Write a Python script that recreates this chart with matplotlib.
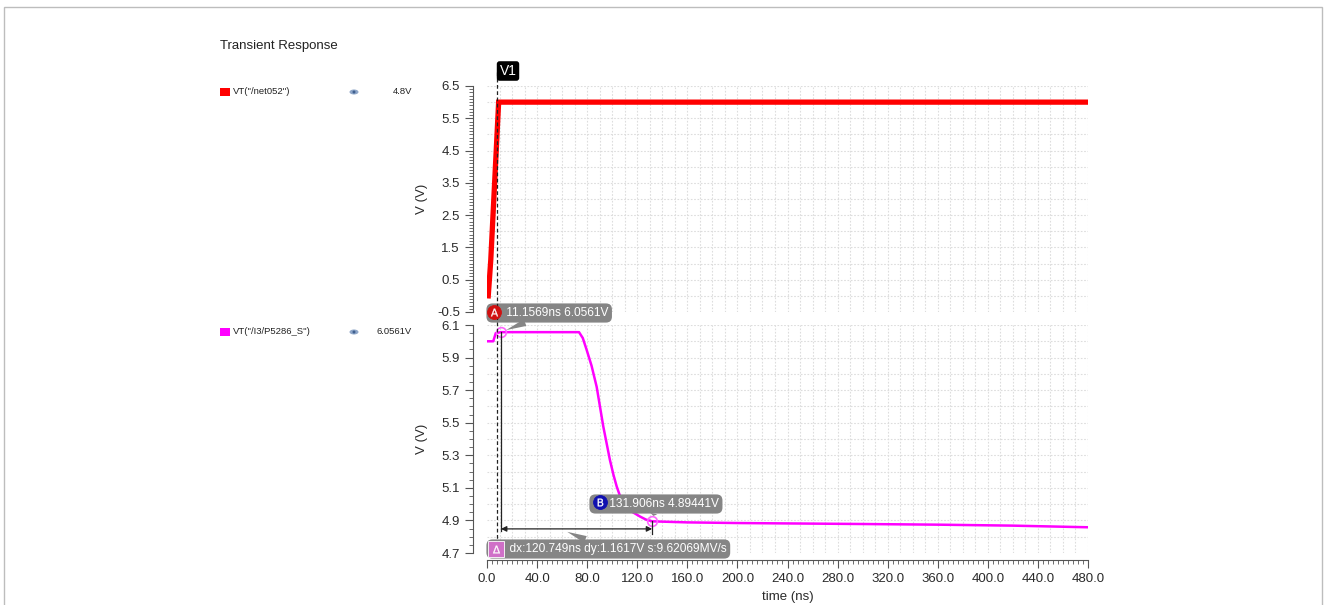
import matplotlib.pyplot as plt
import numpy as np
from matplotlib.patches import Rectangle, Ellipse
from matplotlib.lines import Line2D

plt.rcParams['font.family'] = ['Liberation Sans', 'DejaVu Sans']
plt.rcParams['axes.unicode_minus'] = False

# ==========================
# Data (read off the waveform viewer)
# ==========================
t_net052 = [1.0, 3.0, 9.3, 480.0]
v_net052 = [0.0, 1.1, 6.0, 6.0]

t_p5286 = [0.0, 5.0, 7.0, 11.16, 73.5, 76.5, 79.6, 83.5, 87.6, 92.9, 98.2, 101.0, 103.6, 106.0,
           109.0, 111.6, 116.5, 122.2, 127.0, 131.9, 160.0, 200.0, 300.0, 360.0, 420.0, 480.0]
v_p5286 = [6.0, 6.0, 6.05, 6.0561, 6.056, 6.02, 5.947, 5.85, 5.72, 5.476, 5.27, 5.18, 5.108, 5.055,
           5.01, 4.985, 4.95, 4.924, 4.905, 4.8944, 4.888, 4.884, 4.878, 4.874, 4.868, 4.858]

marker_a = (11.1569, 6.0561)
marker_b = (131.906, 4.89441)
cursor_v1 = 8.0

top_yticks = [-0.5, 0.5, 1.5, 2.5, 3.5, 4.5, 5.5, 6.5]
bot_yticks = [4.7, 4.9, 5.1, 5.3, 5.5, 5.7, 5.9, 6.1]
xticks = np.arange(0, 481, 40)

W, H = 1328, 605
fig = plt.figure(figsize=(W / 100, H / 100), dpi=100)
fig.set_facecolor('white')

def fx(px):
    return px / W

def fy(py):
    return 1 - py / H

ax1 = fig.add_axes([fx(487), fy(312), fx(601), 226 / H])
ax2 = fig.add_axes([fx(487), fy(553), fx(601), 228 / H])

grey_txt = '#2a2a2a'
for ax in (ax1, ax2):
    ax.set_xlim(0, 480)
    for s in ('top', 'right'):
        ax.spines[s].set_visible(False)
    ax.spines['left'].set_position(('outward', 10))
    ax.spines['left'].set_color('#555555')
    ax.xaxis.set_major_locator(plt.FixedLocator(xticks))
    ax.xaxis.set_minor_locator(plt.MultipleLocator(4))
    ax.tick_params(axis='both', which='major', length=6, width=0.8, colors='#555555',
                   labelcolor=grey_txt, labelsize=9.5)
    ax.tick_params(axis='both', which='minor', length=3, width=0.6, colors='#555555')
    ax.set_ylabel('V (V)', fontsize=9.5, color=grey_txt)
    ax.yaxis.set_label_coords(-0.098, 0.5)
    ax.set_axisbelow(True)

ax1.spines['bottom'].set_visible(False)
ax1.tick_params(axis='x', which='both', bottom=False, labelbottom=False)
ax2.spines['bottom'].set_position(('outward', 5))
ax2.spines['bottom'].set_color('#555555')
ax2.set_xticklabels([f'{x:.1f}' for x in xticks])
ax2.set_xlabel('time (ns)', fontsize=9.5, color=grey_txt, labelpad=4)

ax1.set_ylim(-0.5, 6.5)
ax1.set_yticks(top_yticks)
ax1.yaxis.set_minor_locator(plt.MultipleLocator(0.1))
ax2.set_ylim(4.7, 6.1)
ax2.set_yticks(bot_yticks)
ax2.yaxis.set_minor_locator(plt.MultipleLocator(0.05))

# dotted grid
for ax, ystep in ((ax1, 0.5), (ax2, 0.1)):
    y0, y1 = ax.get_ylim()
    for xv in np.arange(10, 481, 10):
        ax.axvline(xv, color='#dddddd', lw=0.8, ls=(0, (1.5, 1.5)), zorder=0)
    for yv in np.arange(y0 + ystep, y1 + 1e-9, ystep):
        ax.axhline(yv, color='#dddddd', lw=0.8, ls=(0, (1.5, 1.5)), zorder=0)

# traces
ax1.plot(t_net052, v_net052, color='#ff0000', lw=3.8, solid_joinstyle='miter', zorder=3)
ax2.plot(t_p5286, v_p5286, color='#ff00ff', lw=1.8, zorder=3)

# markers
for m in (marker_a, marker_b):
    ax2.plot(*m, 'o', ms=7, mfc='none', mec='#ff66ff', mew=1.2, zorder=4)

# delta measurement lines
y_arrow = 4.848
ax2.plot([marker_a[0], marker_a[0]], [marker_a[1], y_arrow - 0.015], color='#222222', lw=0.9, zorder=4)
ax2.plot([marker_b[0], marker_b[0]], [marker_b[1], y_arrow - 0.03], color='#222222', lw=0.9, zorder=4)
ax2.annotate('', xy=(marker_a[0], y_arrow), xytext=(marker_b[0], y_arrow),
             arrowprops=dict(arrowstyle='<|-|>', color='#222222', lw=0.9,
                             mutation_scale=8, shrinkA=0, shrinkB=0), zorder=4)

box = dict(boxstyle='round,pad=0.3,rounding_size=0.5', fc='#858585', ec='none')
wedge = dict(arrowstyle='wedge,tail_width=0.6', fc='#858585', ec='none', shrinkA=0, shrinkB=4)
fs_box = 8.6

ax2.annotate('     11.1569ns 6.0561V', xy=marker_a, xycoords='data',
             xytext=(fx(490), fy(313)), textcoords='figure fraction',
             ha='left', va='center', fontsize=fs_box, color='white', bbox=box,
             arrowprops=wedge, annotation_clip=False, zorder=6)
ax2.annotate('     131.906ns 4.89441V', xy=marker_b, xycoords='data',
             xytext=(fx(593), fy(504)), textcoords='figure fraction',
             ha='left', va='center', fontsize=fs_box, color='white', bbox=box,
             arrowprops=wedge, annotation_clip=False, zorder=6)
ax2.annotate('      dx:120.749ns dy:1.1617V s:9.62069MV/s', xy=(60, y_arrow - 0.005), xycoords='data',
             xytext=(fx(490), fy(549)), textcoords='figure fraction',
             ha='left', va='center', fontsize=fs_box, color='white', bbox=box,
             arrowprops=wedge, annotation_clip=False, zorder=6)

# marker badges drawn as marks (circle + letter glyph)
badges = [(494, 312, '#d01010', 'o', r'$\mathrm{A}$'), (600, 502, '#1010b0', 'o', r'$\mathrm{B}$'),
          (496, 549, '#d070c8', 's', r'$\Delta$')]
for px, py, col, shape, glyph in badges:
    fig.add_artist(Line2D([fx(px)], [fy(py)], marker=shape, ms=10 if shape == 'o' else 11,
                          mfc=col, mec='white' if shape == 's' else col, mew=0.6,
                          transform=fig.transFigure, zorder=7))
    fig.add_artist(Line2D([fx(px)], [fy(py)], marker=glyph, ms=5.5, mfc='white', mec='white',
                          mew=0.2, transform=fig.transFigure, zorder=8))

# cursor V1 across both panels
fig.add_artist(Line2D([fx(497), fx(497)], [fy(72), fy(556)], color='#222222', lw=0.9,
                      ls=(0, (3, 2)), zorder=5))
fig.text(fx(508), fy(71), 'V1', ha='center', va='center', fontsize=10, color='white',
         bbox=dict(boxstyle='round,pad=0.2,rounding_size=0.2', fc='black', ec='none'), zorder=7)

# left legend panel
fig.text(fx(220), fy(46), 'Transient Response', fontsize=9.5, color='#222222', va='center')
legend_rows = [(92, '#ff0000', 'VT("/net052")', '4.8V'),
               (332, '#ff00ff', 'VT("/I3/P5286_S")', '6.0561V')]
for py, col, name, val in legend_rows:
    fig.add_artist(Rectangle((fx(220), fy(py + 4)), fx(10), 8 / H, transform=fig.transFigure,
                             fc=col, ec='none'))
    fig.text(fx(233), fy(py), name, fontsize=6.8, color='#222222', va='center')
    fig.add_artist(Ellipse((fx(354), fy(py)), fx(9), 5 / H, transform=fig.transFigure,
                           fc='#8ea6c8', ec='none'))
    fig.add_artist(Ellipse((fx(354), fy(py)), fx(3), 3 / H, transform=fig.transFigure,
                           fc='#3f5f8f', ec='none'))
    fig.text(fx(412), fy(py), val, fontsize=6.8, color='#222222', va='center', ha='right')

# outer frame
fig.add_artist(Rectangle((fx(4), fy(620)), fx(1318), 613 / H, transform=fig.transFigure,
                         fc='none', ec='#bdbdbd', lw=1.0))

fig.savefig('out.png', dpi=100)
